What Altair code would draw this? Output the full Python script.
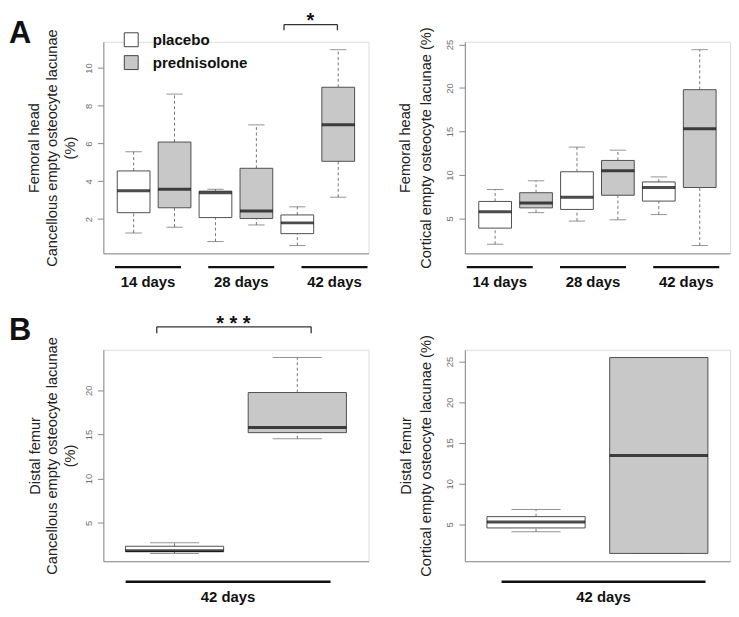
import altair as alt
import pandas as pd

treatments = ["placebo", "prednisolone"]
groups_fh = ["14 days", "28 days", "42 days"]
groups_df = ["42 days"]

# Femoral head, cancellous (order: 14d pla, 14d pred, 28d pla, 28d pred, 42d pla, 42d pred)
fhc_low = [1.27, 1.57, 0.81, 1.69, 0.60, 3.16]
fhc_q1 = [2.34, 2.60, 2.08, 2.03, 1.23, 5.06]
fhc_med = [3.50, 3.58, 3.40, 2.43, 1.80, 7.00]
fhc_q3 = [4.55, 6.08, 3.48, 4.69, 2.22, 8.98]
fhc_high = [5.57, 8.62, 3.58, 6.99, 2.65, 10.97]

# Femoral head, cortical
fhk_low = [2.04, 5.67, 4.70, 4.85, 5.45, 1.89]
fhk_q1 = [3.89, 6.22, 6.04, 7.67, 7.00, 8.56]
fhk_med = [5.78, 6.78, 7.44, 10.48, 8.55, 15.30]
fhk_q3 = [6.96, 7.96, 10.37, 11.67, 9.20, 19.80]
fhk_high = [8.33, 9.33, 13.20, 12.85, 9.78, 24.40]

# Distal femur, cancellous (42d pla, 42d pred)
dfc_low = [1.53, 14.50]
dfc_q1 = [1.75, 15.20]
dfc_med = [1.82, 15.77]
dfc_q3 = [2.34, 19.74]
dfc_high = [2.74, 23.70]

# Distal femur, cortical
dfk_low = [4.09, 1.43]
dfk_q1 = [4.56, 1.43]
dfk_med = [5.28, 13.45]
dfk_q3 = [5.95, 25.50]
dfk_high = [6.83, 25.50]

ticks_fhc = [2, 4, 6, 8, 10]
ticks_fhk = [5, 10, 15, 20, 25]
ticks_dfc = [5, 10, 15, 20]
ticks_dfk = [5, 10, 15, 20, 25]

title_fhc = ["Femoral head", "Cancellous empty osteocyte lacunae", "(%)"]
title_fhk = ["Femoral head", "Cortical empty osteocyte lacunae (%)"]
title_dfc = ["Distal femur", "Cancellous empty osteocyte lacunae", "(%)"]
title_dfk = ["Distal femur", "Cortical empty osteocyte lacunae (%)"]

W, H = 267, 213
FONT = "Liberation Sans"
BOX_STROKE = "#505050"
WHISK = "#777777"
AXIS = "#8a8a8a"
FILLS = ["#ffffff", "#c8c8c8"]


def box_table(groups, low, q1, med, q3, high):
    rows = []
    i = 0
    for g in groups:
        for t in treatments:
            rows.append({"box": f"{g} | {t}", "group": g, "treatment": t,
                         "low": low[i], "q1": q1[i], "med": med[i],
                         "q3": q3[i], "high": high[i]})
            i += 1
    return pd.DataFrame(rows)


def panel(groups, low, q1, med, q3, high, ticks, title, title_x, title_lh,
          g_inner, g_outer, g_align, under_dy, label_dy,
          legend=None, letter=None, letter_y=0, bracket=None, sig=None):
    df = box_table(groups, low, q1, med, q3, high)
    n = len(df)
    step = W / (n * 1.08)
    lo, hi = min(low), max(high)
    ext = 0.04 * (hi - lo)
    yscale = alt.Scale(domain=[lo - ext, hi + ext], nice=False, zero=False)
    xscale = alt.Scale(domain=list(df["box"]), paddingInner=0.2,
                       paddingOuter=(0.08 * n + 0.2) / 2)
    yaxis = alt.Axis(values=ticks, title=title, titleX=title_x, titleY=H / 2,
                     titleAngle=270, titleAlign="center", titleBaseline="middle",
                     titleFont=FONT, titleFontSize=14.7, titleFontWeight="normal",
                     titleColor="#222222", titleLineHeight=title_lh,
                     labelAngle=270, labelAlign="center", labelBaseline="alphabetic",
                     labelFont=FONT, labelFontSize=9.5, labelColor="#707070",
                     labelPadding=6, tickSize=6, tickColor=AXIS, domainColor=AXIS,
                     grid=False)
    xaxis = alt.Axis(labels=False, ticks=False, title=None, domainColor=AXIS, grid=False)
    bx = alt.X("box:N", scale=xscale, axis=xaxis)
    base = alt.Chart(df).encode(x=bx)

    def Y(f):
        return alt.Y(f + ":Q", scale=yscale, axis=yaxis)

    whisk_lo = base.mark_rule(color=WHISK, strokeDash=[3, 2.5], strokeWidth=1).encode(
        y=Y("low"), y2="q1")
    whisk_hi = base.mark_rule(color=WHISK, strokeDash=[3, 2.5], strokeWidth=1).encode(
        y=Y("q3"), y2="high")
    cap_lo = base.mark_tick(color="#666666", thickness=1, size=step * 0.4).encode(y=Y("low"))
    cap_hi = base.mark_tick(color="#666666", thickness=1, size=step * 0.4).encode(y=Y("high"))
    boxes = base.mark_bar(stroke=BOX_STROKE, strokeWidth=1, opacity=1).encode(
        y=Y("q1"), y2="q3",
        fill=alt.Fill("treatment:N", scale=alt.Scale(domain=treatments, range=FILLS),
                      legend=legend))
    medians = base.mark_tick(color="#000000", thickness=3, size=step * 0.8).encode(y=Y("med"))
    layers = [whisk_lo, whisk_hi, cap_lo, cap_hi, boxes, medians]

    if bracket is not None:
        a, b, bp1, bp2, yl, yleg = bracket
        bdf = pd.DataFrame({"a": [a], "b": [b]})
        bc = alt.Chart(bdf)
        xa = alt.X("a:N", scale=xscale, axis=xaxis, bandPosition=bp1)
        xb = alt.X("b:N", scale=xscale, axis=xaxis, bandPosition=bp2)
        layers.append(bc.mark_rule(color="#333333", strokeWidth=1.3).encode(
            x=xa, x2=alt.X2("b:N", bandPosition=bp2), y=alt.value(yl)))
        layers.append(bc.mark_rule(color="#333333", strokeWidth=1.3).encode(
            x=xa, y=alt.value(yl), y2=alt.value(yleg)))
        layers.append(bc.mark_rule(color="#333333", strokeWidth=1.3).encode(
            x=xb, y=alt.value(yl), y2=alt.value(yleg)))

    if letter is not None:
        ldf = pd.DataFrame({"t": [letter]})
        layers.append(alt.Chart(ldf).mark_text(
            font=FONT, fontSize=31, fontWeight="bold", align="left",
            baseline="alphabetic", color="#111111").encode(
            x=alt.value(-95), y=alt.value(letter_y), text="t:N"))

    inner = alt.layer(*layers)

    gdf = pd.DataFrame({"group": groups})
    gscale = alt.Scale(domain=groups, paddingInner=g_inner, paddingOuter=g_outer, align=g_align)
    gx = alt.X("group:N", scale=gscale, axis=None)
    under = alt.Chart(gdf).mark_bar(color="#111111").encode(
        x=gx, y=alt.value(H + under_dy), y2=alt.value(H + under_dy + 2.5))
    glabels = alt.Chart(gdf).mark_text(
        font=FONT, fontSize=15, fontWeight="bold", baseline="middle", color="#111111").encode(
        x=gx, y=alt.value(H + label_dy), text="group:N")
    glayers = [under, glabels]
    if sig is not None:
        sg, stext, sbp, sy = sig
        sdf = pd.DataFrame({"group": [sg], "sig": [stext]})
        glayers.append(alt.Chart(sdf).mark_text(
            font=FONT, fontSize=20, fontWeight="bold", baseline="alphabetic",
            color="#111111").encode(
            x=alt.X("group:N", scale=gscale, axis=None, bandPosition=sbp),
            y=alt.value(sy), text="sig:N"))
    outer = alt.layer(inner, alt.layer(*glayers)).resolve_scale(x="independent")
    return outer.properties(width=W, height=H)


legend = alt.Legend(orient="none", legendX=20.5, legendY=-9.7, title=None,
                    direction="vertical", symbolType="square", symbolSize=196,
                    symbolStrokeColor="#444444", symbolStrokeWidth=1,
                    labelFont=FONT, labelFontSize=15.2, labelFontWeight="bold",
                    labelColor="#111111", labelOffset=14, rowPadding=4, padding=0,
                    offset=0)

a_left = panel(groups_fh, fhc_low, fhc_q1, fhc_med, fhc_q3, fhc_high, ticks_fhc,
               title_fhc, -68.8, 17.8, 0.292, 0.068, 0.92, 12.6, 29,
               legend=legend, letter="A", letter_y=1,
               bracket=("42 days | placebo", "42 days | prednisolone", 0.094, 0.475, -17.4, -11.6),
               sig=("42 days", "*", 0.134, -15.0))
a_right = panel(groups_fh, fhk_low, fhk_q1, fhk_med, fhk_q3, fhk_high, ticks_fhk,
                title_fhk, -59.4, 20.5, 0.292, 0.068, 0.15, 12.6, 29)
b_left = panel(groups_df, dfc_low, dfc_q1, dfc_med, dfc_q3, dfc_high, ticks_dfc,
               title_dfc, -68.5, 17.7, 0.0, 0.147, 0.37, 19.4, 35.8,
               letter="B", letter_y=-9.7,
               bracket=("42 days | placebo", "42 days | prednisolone", 0.319, 0.641, -23, -16.5),
               sig=("42 days", "* * *", 0.526, -19.9))
b_right = panel(groups_df, dfk_low, dfk_q1, dfk_med, dfk_q3, dfk_high, ticks_dfk,
                title_dfk, -58.5, 20.4, 0.0, 0.15, 0.6, 19.4, 35.8)

chart = alt.concat(a_left, a_right, b_left, b_right, columns=2,
                   spacing={"row": 97, "column": 97}, bounds="flush",
                   padding={"left": 0, "top": 0, "right": 0, "bottom": 0}).resolve_scale(
    color="independent").configure_view(stroke=None).configure(font=FONT)

chart.save("out.html", embed_options={"renderer": "svg", "actions": False})
